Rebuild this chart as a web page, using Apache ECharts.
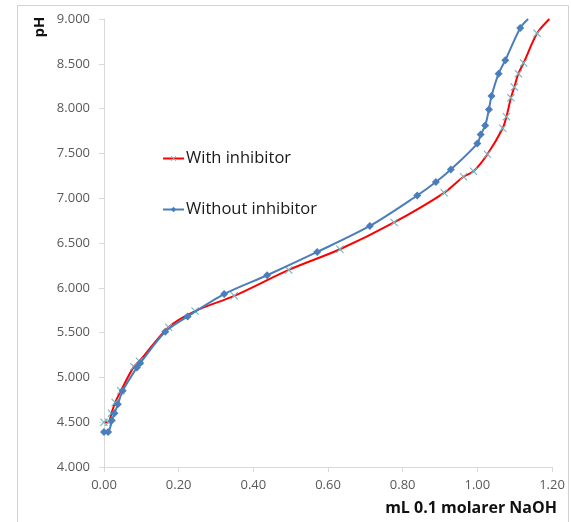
<!DOCTYPE html>
<html>
<head>
<meta charset="utf-8">
<script src="https://cdn.jsdelivr.net/npm/echarts@6/dist/echarts.min.js"></script>
<style>
  html, body { margin: 0; padding: 0; background: #fff; }
  #chart { width: 571px; height: 522px; }
</style>
</head>
<body>
<div id="chart"></div>
<script>
// titration curves, values
const withName = "With inhibitor";
const withoutName = "Without inhibitor";

const withX = [0.00, 0.012, 0.02, 0.03, 0.045, 0.08, 0.095, 0.173, 0.244, 0.349, 0.495, 0.632, 0.777, 0.911, 0.963, 0.990, 1.027, 1.068, 1.078, 1.090, 1.099, 1.110, 1.124, 1.160, 1.193];
const withPH = [4.50, 4.50, 4.60, 4.72, 4.85, 5.12, 5.18, 5.56, 5.74, 5.91, 6.20, 6.43, 6.73, 7.06, 7.24, 7.30, 7.49, 7.78, 7.91, 8.12, 8.24, 8.39, 8.51, 8.84, 9.00];

const withoutX = [0.00, 0.011, 0.021, 0.028, 0.037, 0.050, 0.088, 0.097, 0.164, 0.224, 0.322, 0.437, 0.571, 0.712, 0.839, 0.889, 0.929, 1.000, 1.009, 1.021, 1.031, 1.038, 1.057, 1.075, 1.115, 1.136];
const withoutPH = [4.39, 4.39, 4.52, 4.60, 4.70, 4.85, 5.11, 5.16, 5.51, 5.68, 5.93, 6.14, 6.40, 6.69, 7.03, 7.18, 7.32, 7.61, 7.71, 7.81, 7.99, 8.14, 8.39, 8.54, 8.90, 9.00];

const xTicks = { min: 0, max: 1.2, step: 0.2 };
const yTicks = { min: 4, max: 9, step: 0.5 };

// last point of each curve is just where the line leaves the plot, no marker there
const toPoints = (xs, ys) =>
  xs.map((x, i) => (i === xs.length - 1 ? { value: [x, ys[i]], symbol: "none" } : [x, ys[i]]));

const crossPath = "path://M0,1L1,0L5,4L9,0L10,1L6,5L10,9L9,10L5,6L1,10L0,9L4,5Z";
const font = "'Open Sans', 'Liberation Sans', sans-serif";

const chart = echarts.init(document.getElementById("chart"));
chart.setOption({
  backgroundColor: "#fff",
  animation: false,
  graphic: [
    {
      type: "rect",
      shape: { x: 17.5, y: 5.5, width: 551, height: 530 },
      style: { fill: "none", stroke: "#d2d2d2", lineWidth: 1 },
      silent: true,
    },
    {
      type: "text",
      x: 40,
      y: 27,
      rotation: Math.PI / 2,
      style: {
        text: "pH",
        fill: "#111",
        font: "bold 15px " + font,
        align: "center",
        verticalAlign: "middle",
      },
    },
  ],
  grid: { left: 104, right: 19, top: 19, bottom: 55 },
  legend: {
    orient: "vertical",
    left: 162,
    top: 150,
    padding: 0,
    itemGap: 34,
    itemWidth: 21,
    itemHeight: 7,
    textStyle: { fontFamily: font, fontSize: 16.5, color: "#1a1a1a", padding: [0, 0, 0, -3] },
    data: [withName, withoutName],
  },
  xAxis: {
    type: "value",
    min: xTicks.min,
    max: xTicks.max,
    interval: xTicks.step,
    name: "mL 0.1 molarer NaOH",
    nameLocation: "end",
    nameGap: 5,
    nameTextStyle: {
      fontFamily: font,
      fontSize: 16,
      fontWeight: "bold",
      color: "#111",
      align: "right",
      verticalAlign: "top",
      padding: [33, 0, 0, 0],
    },
    splitLine: { show: false },
    axisLine: { lineStyle: { color: "#d9d9d9" } },
    axisTick: { show: true, length: 5, lineStyle: { color: "#d9d9d9" } },
    axisLabel: {
      margin: 12,
      fontFamily: font,
      fontSize: 13,
      color: "#595959",
      formatter: (v) => v.toFixed(2),
    },
  },
  yAxis: {
    type: "value",
    min: yTicks.min,
    max: yTicks.max,
    interval: yTicks.step,
    splitLine: { show: false },
    axisLine: { show: true, lineStyle: { color: "#d9d9d9" } },
    axisTick: { show: true, length: 5, lineStyle: { color: "#d9d9d9" } },
    axisLabel: {
      margin: 14,
      fontFamily: font,
      fontSize: 13,
      color: "#595959",
      formatter: (v) => v.toFixed(3),
    },
  },
  series: [
    {
      name: withName,
      type: "line",
      smooth: 0.3,
      clip: true,
      data: toPoints(withX, withPH),
      symbol: crossPath,
      symbolSize: 8,
      itemStyle: { color: "#74b9c4" },
      lineStyle: { color: "#ff0000", width: 2 },
      z: 2,
    },
    {
      name: withoutName,
      type: "line",
      smooth: 0.3,
      clip: true,
      data: toPoints(withoutX, withoutPH),
      symbol: "diamond",
      symbolSize: 8,
      itemStyle: { color: "#4a7ebb" },
      lineStyle: { color: "#4a7ebb", width: 2 },
      z: 3,
    },
  ],
});
</script>
</body>
</html>
